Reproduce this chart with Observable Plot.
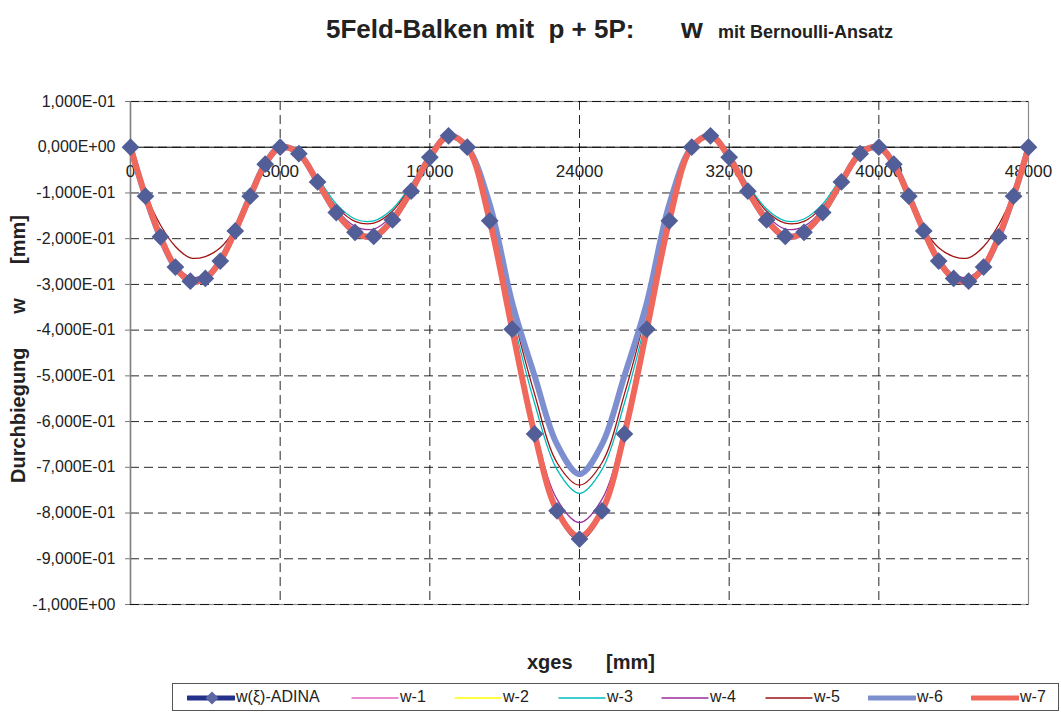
<!DOCTYPE html>
<html>
<head>
<meta charset="utf-8">
<script src="https://cdn.jsdelivr.net/npm/d3@7"></script>
<script src="https://cdn.jsdelivr.net/npm/@observablehq/plot@0.6"></script>
<style>
  html, body { margin: 0; padding: 0; background: #fff; }
  #wrap { position: relative; width: 1061px; height: 713px; font-family: "Liberation Sans", Arial, sans-serif; color: #222; }
  #wrap > svg { position: absolute; left: 0; top: 0; }
  #legend { position: absolute; left: 172px; top: 683px; width: 887px; height: 28px; border: 1px solid #555; box-sizing: border-box; }
  #legend .it { position: absolute; top: 0; height: 26px; font-family: "Liberation Sans", Arial, sans-serif; font-size: 16px; line-height: 26px; color: #222; white-space: pre; }
  #legend .it svg { vertical-align: middle; margin-right: 1px; }
</style>
</head>
<body>
<div id="wrap"></div>
<script>
// ---------- data ----------
const xPos = [0,800,1600,2400,3200,4000,4800,5600,6400,7200,8000,
  9000,10000,11000,12000,13000,14000,15000,16000,17000,18000,
  19200,20400,21600,22800,24000,25200,26400,27600,28800,30000,
  31000,32000,33000,34000,35000,36000,37000,38000,39000,40000,
  40800,41600,42400,43200,44000,44800,45600,46400,47200,48000];

const wAdina = [0,-0.107,-0.196,-0.262,-0.293,-0.287,-0.249,-0.183,-0.107,-0.037,0,
  -0.014,-0.076,-0.143,-0.186,-0.195,-0.159,-0.096,-0.022,0.025,0,
  -0.161,-0.398,-0.627,-0.795,-0.857,-0.795,-0.627,-0.398,-0.161,0,
  0.025,-0.022,-0.096,-0.159,-0.195,-0.186,-0.143,-0.076,-0.014,0,
  -0.037,-0.107,-0.183,-0.249,-0.287,-0.293,-0.262,-0.196,-0.107,0];

const w1 = [0,-0.107,-0.196,-0.262,-0.292,-0.286,-0.248,-0.183,-0.107,-0.037,0,
  -0.014,-0.076,-0.142,-0.185,-0.194,-0.158,-0.096,-0.022,0.025,0,
  -0.161,-0.397,-0.625,-0.792,-0.852,-0.792,-0.625,-0.397,-0.161,0,
  0.025,-0.022,-0.096,-0.158,-0.194,-0.185,-0.142,-0.076,-0.014,0,
  -0.037,-0.107,-0.183,-0.248,-0.286,-0.292,-0.262,-0.196,-0.107,0];

const w2 = [0,-0.107,-0.196,-0.262,-0.292,-0.286,-0.248,-0.183,-0.107,-0.037,0,
  -0.014,-0.076,-0.142,-0.185,-0.194,-0.158,-0.096,-0.022,0.025,0,
  -0.161,-0.397,-0.625,-0.792,-0.852,-0.792,-0.625,-0.397,-0.161,0,
  0.025,-0.022,-0.096,-0.158,-0.194,-0.185,-0.142,-0.076,-0.014,0,
  -0.037,-0.107,-0.183,-0.248,-0.286,-0.292,-0.262,-0.196,-0.107,0];

const w3 = [0,-0.105,-0.193,-0.258,-0.289,-0.284,-0.246,-0.181,-0.106,-0.037,0,
  -0.011,-0.066,-0.124,-0.157,-0.161,-0.135,-0.082,-0.018,0.022,0,
  -0.145,-0.37,-0.56,-0.705,-0.757,-0.705,-0.56,-0.37,-0.145,0,
  0.022,-0.018,-0.082,-0.135,-0.161,-0.157,-0.124,-0.066,-0.011,0,
  -0.037,-0.106,-0.181,-0.246,-0.284,-0.289,-0.258,-0.193,-0.105,0];

const w4 = [0,-0.106,-0.194,-0.257,-0.284,-0.279,-0.244,-0.18,-0.106,-0.037,0,
  -0.013,-0.072,-0.136,-0.173,-0.179,-0.149,-0.09,-0.021,0.024,0,
  -0.158,-0.39,-0.612,-0.77,-0.821,-0.77,-0.612,-0.39,-0.158,0,
  0.024,-0.021,-0.09,-0.149,-0.179,-0.173,-0.136,-0.072,-0.013,0,
  -0.037,-0.106,-0.18,-0.244,-0.279,-0.284,-0.257,-0.194,-0.106,0];

const w5 = [0,-0.1,-0.17,-0.217,-0.242,-0.239,-0.22,-0.178,-0.113,-0.043,0,
  -0.012,-0.07,-0.13,-0.162,-0.166,-0.14,-0.085,-0.021,0.022,0,
  -0.14,-0.355,-0.54,-0.69,-0.739,-0.69,-0.54,-0.355,-0.14,0,
  0.022,-0.021,-0.085,-0.14,-0.166,-0.162,-0.13,-0.07,-0.012,0,
  -0.043,-0.113,-0.178,-0.22,-0.239,-0.242,-0.217,-0.17,-0.1,0];

const w6 = [0,-0.108,-0.198,-0.263,-0.293,-0.287,-0.248,-0.182,-0.106,-0.036,0,
  -0.014,-0.076,-0.143,-0.186,-0.195,-0.159,-0.095,-0.021,0.025,0,
  -0.125,-0.34,-0.5,-0.65,-0.715,-0.65,-0.5,-0.34,-0.125,0,
  0.025,-0.021,-0.095,-0.159,-0.195,-0.186,-0.143,-0.076,-0.014,0,
  -0.036,-0.106,-0.182,-0.248,-0.287,-0.293,-0.263,-0.198,-0.108,0];

const w7 = [0,-0.107,-0.196,-0.262,-0.293,-0.287,-0.249,-0.183,-0.107,-0.037,0,
  -0.014,-0.076,-0.143,-0.186,-0.195,-0.159,-0.096,-0.022,0.025,0,
  -0.161,-0.398,-0.627,-0.795,-0.852,-0.795,-0.627,-0.398,-0.161,0,
  0.025,-0.022,-0.096,-0.159,-0.195,-0.186,-0.143,-0.076,-0.014,0,
  -0.037,-0.107,-0.183,-0.249,-0.287,-0.293,-0.262,-0.196,-0.107,0];

const seriesNames = ["w(ξ)-ADINA","w-1","w-2","w-3","w-4","w-5","w-6","w-7"];
const seriesValues = [wAdina, w1, w2, w3, w4, w5, w6, w7];
const seriesColors = ["#24318a","#e466c4","#ffff00","#00bcbc","#9b2f9b","#a31212","#7d8fcf","#f0675c"];
const seriesWidths = [4, 1.3, 1.3, 1.3, 1.3, 1.3, 6, 6];

const xTicks = [0, 8000, 16000, 24000, 32000, 40000, 48000];
const yTicks = [0.1, 0, -0.1, -0.2, -0.3, -0.4, -0.5, -0.6, -0.7, -0.8, -0.9, -1.0];

// ---------- helpers ----------
function sci(v) {
  if (Math.abs(v) < 1e-12) return "0,000E+00";
  const e = Math.floor(Math.log10(Math.abs(v)) + 1e-9);
  const m = v / Math.pow(10, e);
  return m.toFixed(3).replace(".", ",") + "E" + (e < 0 ? "-" : "+") + String(Math.abs(e)).padStart(2, "0");
}

const tables = seriesValues.map((vals, i) => xPos.map((x, j) => ({x, y: vals[j], s: seriesNames[i]})));

const lineMarks = tables.map((t, i) => Plot.line(t, {
  x: "x", y: "y", stroke: seriesColors[i], strokeWidth: seriesWidths[i], curve: "catmull-rom"
}));

const chart = Plot.plot({
  width: 1061,
  height: 713,
  marginTop: 101,
  marginBottom: 109,
  marginLeft: 130,
  marginRight: 33,
  style: {fontFamily: "'Liberation Sans', Arial, sans-serif", background: "transparent"},
  x: {domain: [0, 48000]},
  y: {domain: [-1, 0.1]},
  marks: [
    Plot.frame({stroke: "#8a8a8a", strokeWidth: 1.2}),
    Plot.gridX(xTicks.filter(d => d > 0 && d < 48000), {stroke: "#000", strokeOpacity: 0.85, strokeDasharray: "9,5"}),
    Plot.gridY(yTicks, {stroke: "#000", strokeOpacity: 0.85, strokeDasharray: "9,5"}),
    Plot.ruleX([0], {stroke: "#808080", strokeWidth: 1.5}),
    Plot.ruleY([0], {stroke: "#000", strokeWidth: 1}),
    Plot.axisY(yTicks, {tickFormat: sci, tickSize: 5, tickPadding: 10, fontSize: 16, stroke: "#777", fill: "#222", label: null}),
    Plot.axisX([], {label: null, tickSize: 0}),
    Plot.text(xTicks, {x: d => d, y: 0, dy: 24, text: d => String(d), fontSize: 17, fill: "#222"}),
    ...lineMarks,
    Plot.dot(tables[0], {x: "x", y: "y", symbol: "diamond2", r: 8, fill: "#525e98", stroke: "none"})
  ]
});

const wrap = document.getElementById("wrap");
wrap.appendChild(chart);

// ---------- titles (overlay svg) ----------
const NS = "http://www.w3.org/2000/svg";
const ov = document.createElementNS(NS, "svg");
ov.setAttribute("width", 1061);
ov.setAttribute("height", 713);
ov.style.pointerEvents = "none";
ov.style.fontFamily = "'Liberation Sans', Arial, sans-serif";
ov.style.fontWeight = "bold";
ov.style.fill = "#222";
function addText(str, x, y, size, anchor, rotate) {
  const t = document.createElementNS(NS, "text");
  t.setAttribute("x", x);
  t.setAttribute("y", y);
  t.setAttribute("font-size", size);
  t.setAttribute("text-anchor", anchor || "start");
  t.setAttributeNS("http://www.w3.org/XML/1998/namespace", "xml:space", "preserve");
  t.style.whiteSpace = "pre";
  if (rotate) t.setAttribute("transform", `rotate(${rotate},${x},${y})`);
  t.textContent = str;
  ov.appendChild(t);
}
addText("5Feld-Balken mit  p + 5P:", 326, 38, 26, "start");
addText("w", 681, 38, 28, "start");
addText("mit Bernoulli-Ansatz", 718, 38, 18, "start");
addText("xges", 527, 669, 20, "start");
addText("[mm]", 655, 669, 20, "end");
addText("Durchbiegung", 25, 483, 20, "start", -90);
addText("w", 25, 306, 20, "middle", -90);
addText("[mm]", 25, 215, 20, "end", -90);
wrap.appendChild(ov);

// ---------- legend ----------
const legend = document.createElement("div");
legend.id = "legend";
const legX = [14, 178, 281, 385, 488, 592, 695, 798];
seriesNames.forEach((name, i) => {
  const it = document.createElement("div");
  it.className = "it";
  it.style.left = legX[i] + "px";
  const sw = seriesWidths[i] >= 4 ? 5 : 1.4;
  let svg = '<svg width="48" height="14"><line x1="1" x2="47" y1="7" y2="7" stroke="' + seriesColors[i] + '" stroke-width="' + sw + '" stroke-linecap="round"/>';
  if (i === 0) svg += '<path d="M25,0.5 L31.5,7 L25,13.5 L18.5,7 Z" fill="#5a67a4"/>';
  svg += '</svg>';
  it.innerHTML = svg + name;
  legend.appendChild(it);
});
wrap.appendChild(legend);
</script>
</body>
</html>
